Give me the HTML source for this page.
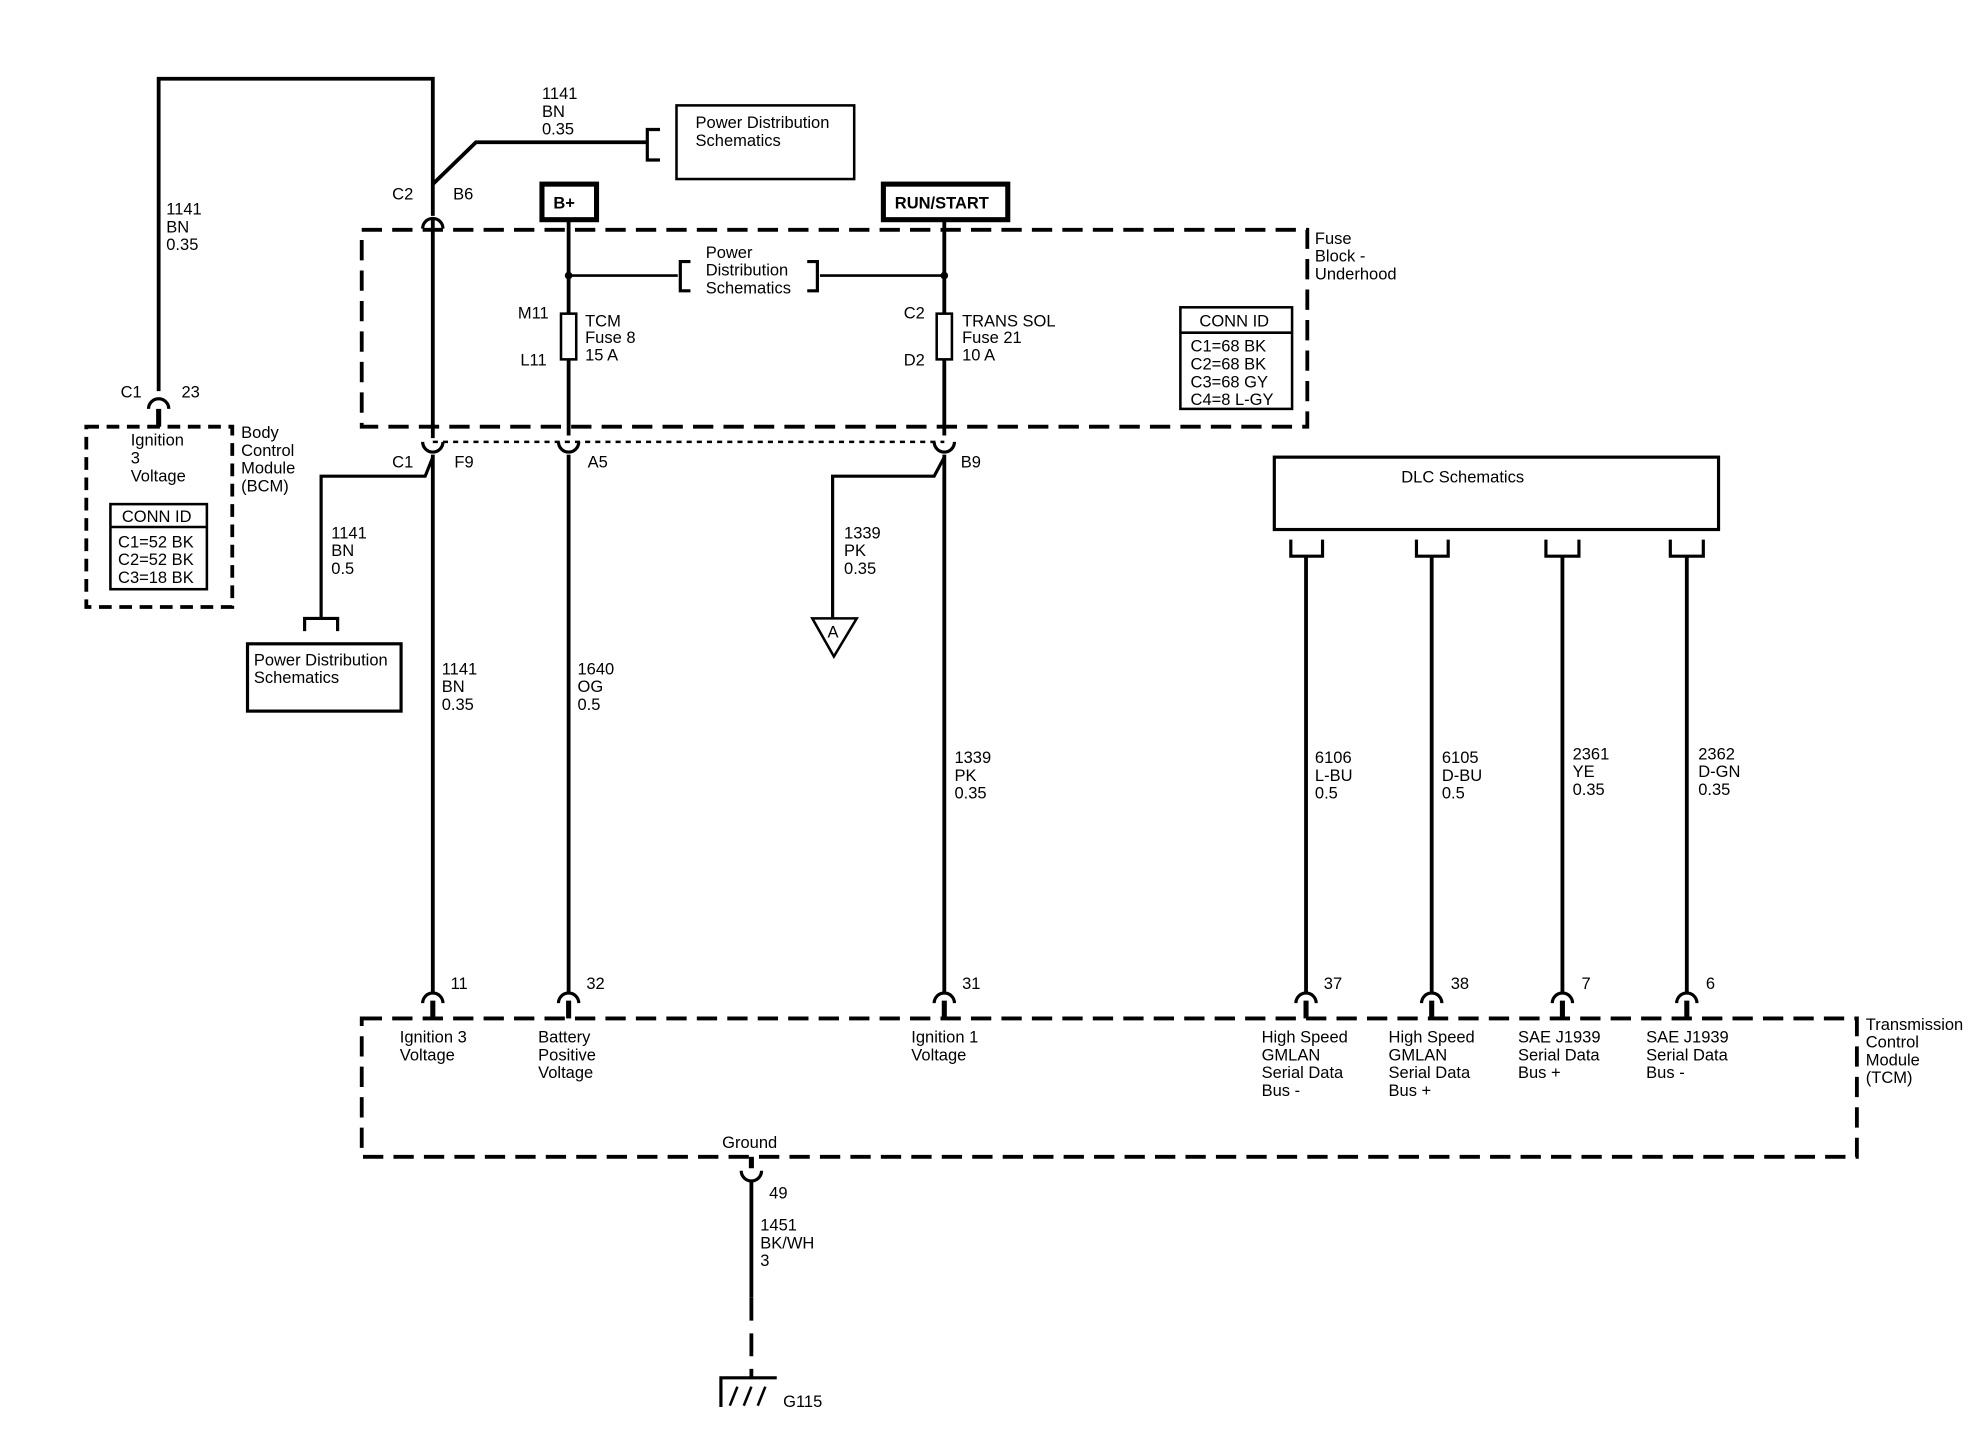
<!DOCTYPE html>
<html><head><meta charset="utf-8"><style>
html,body{margin:0;padding:0;background:#fff;}
svg{display:block;}
text{font-family:"Liberation Sans",Arial,sans-serif;font-size:13px;fill:#000;}
</style></head><body>
<svg width="1980" height="1440" viewBox="0 0 1560 1134" preserveAspectRatio="none" xmlns="http://www.w3.org/2000/svg">
<g fill="none" stroke="#000" stroke-width="3">
<!-- top loop -->
<polyline points="125,308 125,62 341,62 341,170"/>
<polyline points="341,145 375,112 510,112"/>
<polyline points="520,102 510,102 510,126 520,126" stroke-width="2.5"/>
<rect x="533" y="83" width="140" height="58" stroke-width="2"/>
<!-- fuse block -->
<rect x="285" y="181" width="745" height="155" stroke-dasharray="16,8"/>
<rect x="427" y="145" width="43" height="28" stroke-width="4"/>
<rect x="696" y="145" width="98" height="28" stroke-width="4"/>
<line x1="448" y1="173" x2="448" y2="247"/>
<line x1="448" y1="283" x2="448" y2="343"/>
<line x1="744" y1="173" x2="744" y2="247"/>
<line x1="744" y1="283" x2="744" y2="343"/>
<line x1="448" y1="217" x2="534" y2="217" stroke-width="2"/>
<line x1="646" y1="217" x2="744" y2="217" stroke-width="2"/>
<polyline points="544,206 536,206 536,229 544,229" stroke-width="2.5"/>
<polyline points="636,206 644,206 644,229 636,229" stroke-width="2.5"/>
<rect x="442" y="247" width="12" height="36" stroke-width="2"/>
<rect x="738" y="247" width="12" height="36" stroke-width="2"/>
<rect x="930" y="242" width="88" height="80" stroke-width="2"/>
<line x1="930" y1="262" x2="1018" y2="262" stroke-width="2"/>
<!-- C2 connector -->
<path d="M333,180 A8,8 0 0 1 349,180" stroke-width="2.5"/>
<line x1="341" y1="172" x2="341" y2="345" stroke-width="3"/>
<!-- mid connectors -->
<line x1="341" y1="348" x2="744" y2="348" stroke-width="2" stroke-dasharray="4,4"/>
<path d="M333,348 A8,8 0 0 0 349,348" stroke-width="2.5"/>
<path d="M440,348 A8,8 0 0 0 456,348" stroke-width="2.5"/>
<path d="M736,348 A8,8 0 0 0 752,348" stroke-width="2.5"/>
<line x1="341" y1="358" x2="341" y2="782"/>
<line x1="448" y1="358" x2="448" y2="782"/>
<line x1="744" y1="358" x2="744" y2="782"/>
<polyline points="341,360 335,375 253,375 253,487" stroke-width="2.5"/>
<polyline points="240,497 240,487 266,487 266,497" stroke-width="2.5"/>
<rect x="195" y="507" width="121" height="53" stroke-width="2.5"/>
<polyline points="744,360 736,375 656,375 656,487" stroke-width="2.5"/>
<polygon points="640,487 675,487 657,517" stroke-width="2"/>
<!-- BCM -->
<path d="M117,322 A8,8 0 0 1 133,322" stroke-width="2.5"/>
<line x1="125" y1="322" x2="125" y2="336" stroke-width="4"/>
<rect x="68" y="336" width="115" height="142" stroke-dasharray="10,6"/>
<rect x="87" y="397" width="76" height="67" stroke-width="2"/>
<line x1="87" y1="415" x2="163" y2="415" stroke-width="2"/>
<!-- DLC -->
<rect x="1004" y="360" width="350" height="57" stroke-width="2.5"/>
<g stroke-width="2.5">
<polyline points="1017,425 1017,438 1042,438 1042,425"/>
<polyline points="1116,425 1116,438 1141,438 1141,425"/>
<polyline points="1218,425 1218,438 1244,438 1244,425"/>
<polyline points="1316,425 1316,438 1342,438 1342,425"/>
</g>
<line x1="1029" y1="438" x2="1029" y2="782"/>
<line x1="1128" y1="438" x2="1128" y2="782"/>
<line x1="1231" y1="438" x2="1231" y2="782"/>
<line x1="1329" y1="438" x2="1329" y2="782"/>
<!-- bottom connectors -->
<g stroke-width="2.5">
<path d="M333,790 A8,8 0 0 1 349,790"/>
<path d="M440,790 A8,8 0 0 1 456,790"/>
<path d="M736,790 A8,8 0 0 1 752,790"/>
<path d="M1021,790 A8,8 0 0 1 1037,790"/>
<path d="M1120,790 A8,8 0 0 1 1136,790"/>
<path d="M1223,790 A8,8 0 0 1 1239,790"/>
<path d="M1321,790 A8,8 0 0 1 1337,790"/>
</g>
<g stroke-width="4">
<line x1="341" y1="788" x2="341" y2="802"/><line x1="448" y1="788" x2="448" y2="802"/>
<line x1="744" y1="788" x2="744" y2="802"/><line x1="1029" y1="788" x2="1029" y2="802"/>
<line x1="1128" y1="788" x2="1128" y2="802"/><line x1="1231" y1="788" x2="1231" y2="802"/>
<line x1="1329" y1="788" x2="1329" y2="802"/>
</g>
<rect x="285" y="802" width="1178" height="109" stroke-dasharray="16,8"/>
<!-- ground -->
<line x1="592" y1="911" x2="592" y2="920" stroke-width="4"/>
<path d="M584,922 A8,8 0 0 0 600,922" stroke-width="2.5"/>
<line x1="592" y1="930" x2="592" y2="1022"/>
<line x1="592" y1="1022" x2="592" y2="1085" stroke-dasharray="18,10"/>
<polyline points="568,1108 568,1085 612,1085" stroke-width="2.5"/>
<line x1="575" y1="1107" x2="581" y2="1092" stroke-width="2"/>
<line x1="586" y1="1107" x2="592" y2="1092" stroke-width="2"/>
<line x1="597" y1="1107" x2="603" y2="1092" stroke-width="2"/>
</g>
<g fill="#000">
<circle cx="448" cy="217" r="3"/><circle cx="744" cy="217" r="3"/>
</g>
<!-- texts -->
<text x="131" y="169">1141</text><text x="131" y="183">BN</text><text x="131" y="197">0.35</text>
<text x="427" y="78">1141</text><text x="427" y="92">BN</text><text x="427" y="106">0.35</text>
<text x="548" y="101">Power Distribution</text><text x="548" y="115">Schematics</text>
<text x="309" y="157">C2</text><text x="357" y="157">B6</text>
<text x="436" y="164" font-weight="bold">B+</text>
<text x="705" y="164" font-weight="bold">RUN/START</text>
<text x="1036" y="192">Fuse</text><text x="1036" y="206">Block -</text><text x="1036" y="220">Underhood</text>
<text x="556" y="203">Power</text><text x="556" y="217">Distribution</text><text x="556" y="231">Schematics</text>
<text x="408" y="251">M11</text><text x="410" y="288">L11</text>
<text x="461" y="257">TCM</text><text x="461" y="270">Fuse 8</text><text x="461" y="284">15 A</text>
<text x="712" y="251">C2</text><text x="712" y="288">D2</text>
<text x="758" y="257">TRANS SOL</text><text x="758" y="270">Fuse 21</text><text x="758" y="284">10 A</text>
<text x="945" y="257">CONN ID</text>
<text x="938" y="277">C1=68 BK</text><text x="938" y="291">C2=68 BK</text><text x="938" y="305">C3=68 GY</text><text x="938" y="319">C4=8 L-GY</text>
<text x="95" y="313">C1</text><text x="143" y="313">23</text>
<text x="103" y="351">Ignition</text><text x="103" y="365">3</text><text x="103" y="379">Voltage</text>
<text x="190" y="345">Body</text><text x="190" y="359">Control</text><text x="190" y="373">Module</text><text x="190" y="387">(BCM)</text>
<text x="96" y="411">CONN ID</text>
<text x="93" y="431">C1=52 BK</text><text x="93" y="445">C2=52 BK</text><text x="93" y="459">C3=18 BK</text>
<text x="309" y="368">C1</text><text x="358" y="368">F9</text><text x="463" y="368">A5</text><text x="757" y="368">B9</text>
<text x="261" y="424">1141</text><text x="261" y="438">BN</text><text x="261" y="452">0.5</text>
<text x="200" y="524">Power Distribution</text><text x="200" y="538">Schematics</text>
<text x="665" y="424">1339</text><text x="665" y="438">PK</text><text x="665" y="452">0.35</text>
<text x="652" y="502">A</text>
<text x="1104" y="380">DLC Schematics</text>
<text x="348" y="531">1141</text><text x="348" y="545">BN</text><text x="348" y="559">0.35</text>
<text x="455" y="531">1640</text><text x="455" y="545">OG</text><text x="455" y="559">0.5</text>
<text x="752" y="601">1339</text><text x="752" y="615">PK</text><text x="752" y="629">0.35</text>
<text x="1036" y="601">6106</text><text x="1036" y="615">L-BU</text><text x="1036" y="629">0.5</text>
<text x="1136" y="601">6105</text><text x="1136" y="615">D-BU</text><text x="1136" y="629">0.5</text>
<text x="1239" y="598">2361</text><text x="1239" y="612">YE</text><text x="1239" y="626">0.35</text>
<text x="1338" y="598">2362</text><text x="1338" y="612">D-GN</text><text x="1338" y="626">0.35</text>
<text x="355" y="779">11</text><text x="462" y="779">32</text><text x="758" y="779">31</text>
<text x="1043" y="779">37</text><text x="1143" y="779">38</text><text x="1246" y="779">7</text><text x="1344" y="779">6</text>
<text x="315" y="821">Ignition 3</text><text x="315" y="835">Voltage</text>
<text x="424" y="821">Battery</text><text x="424" y="835">Positive</text><text x="424" y="849">Voltage</text>
<text x="718" y="821">Ignition 1</text><text x="718" y="835">Voltage</text>
<text x="994" y="821">High Speed</text><text x="994" y="835">GMLAN</text><text x="994" y="849">Serial Data</text><text x="994" y="863">Bus -</text>
<text x="1094" y="821">High Speed</text><text x="1094" y="835">GMLAN</text><text x="1094" y="849">Serial Data</text><text x="1094" y="863">Bus +</text>
<text x="1196" y="821">SAE J1939</text><text x="1196" y="835">Serial Data</text><text x="1196" y="849">Bus +</text>
<text x="1297" y="821">SAE J1939</text><text x="1297" y="835">Serial Data</text><text x="1297" y="849">Bus -</text>
<text x="1470" y="811">Transmission</text><text x="1470" y="825">Control</text><text x="1470" y="839">Module</text><text x="1470" y="853">(TCM)</text>
<text x="569" y="904">Ground</text>
<text x="606" y="944">49</text>
<text x="599" y="969">1451</text><text x="599" y="983">BK/WH</text><text x="599" y="997">3</text>
<text x="617" y="1108">G115</text>
</svg>
</body></html>
